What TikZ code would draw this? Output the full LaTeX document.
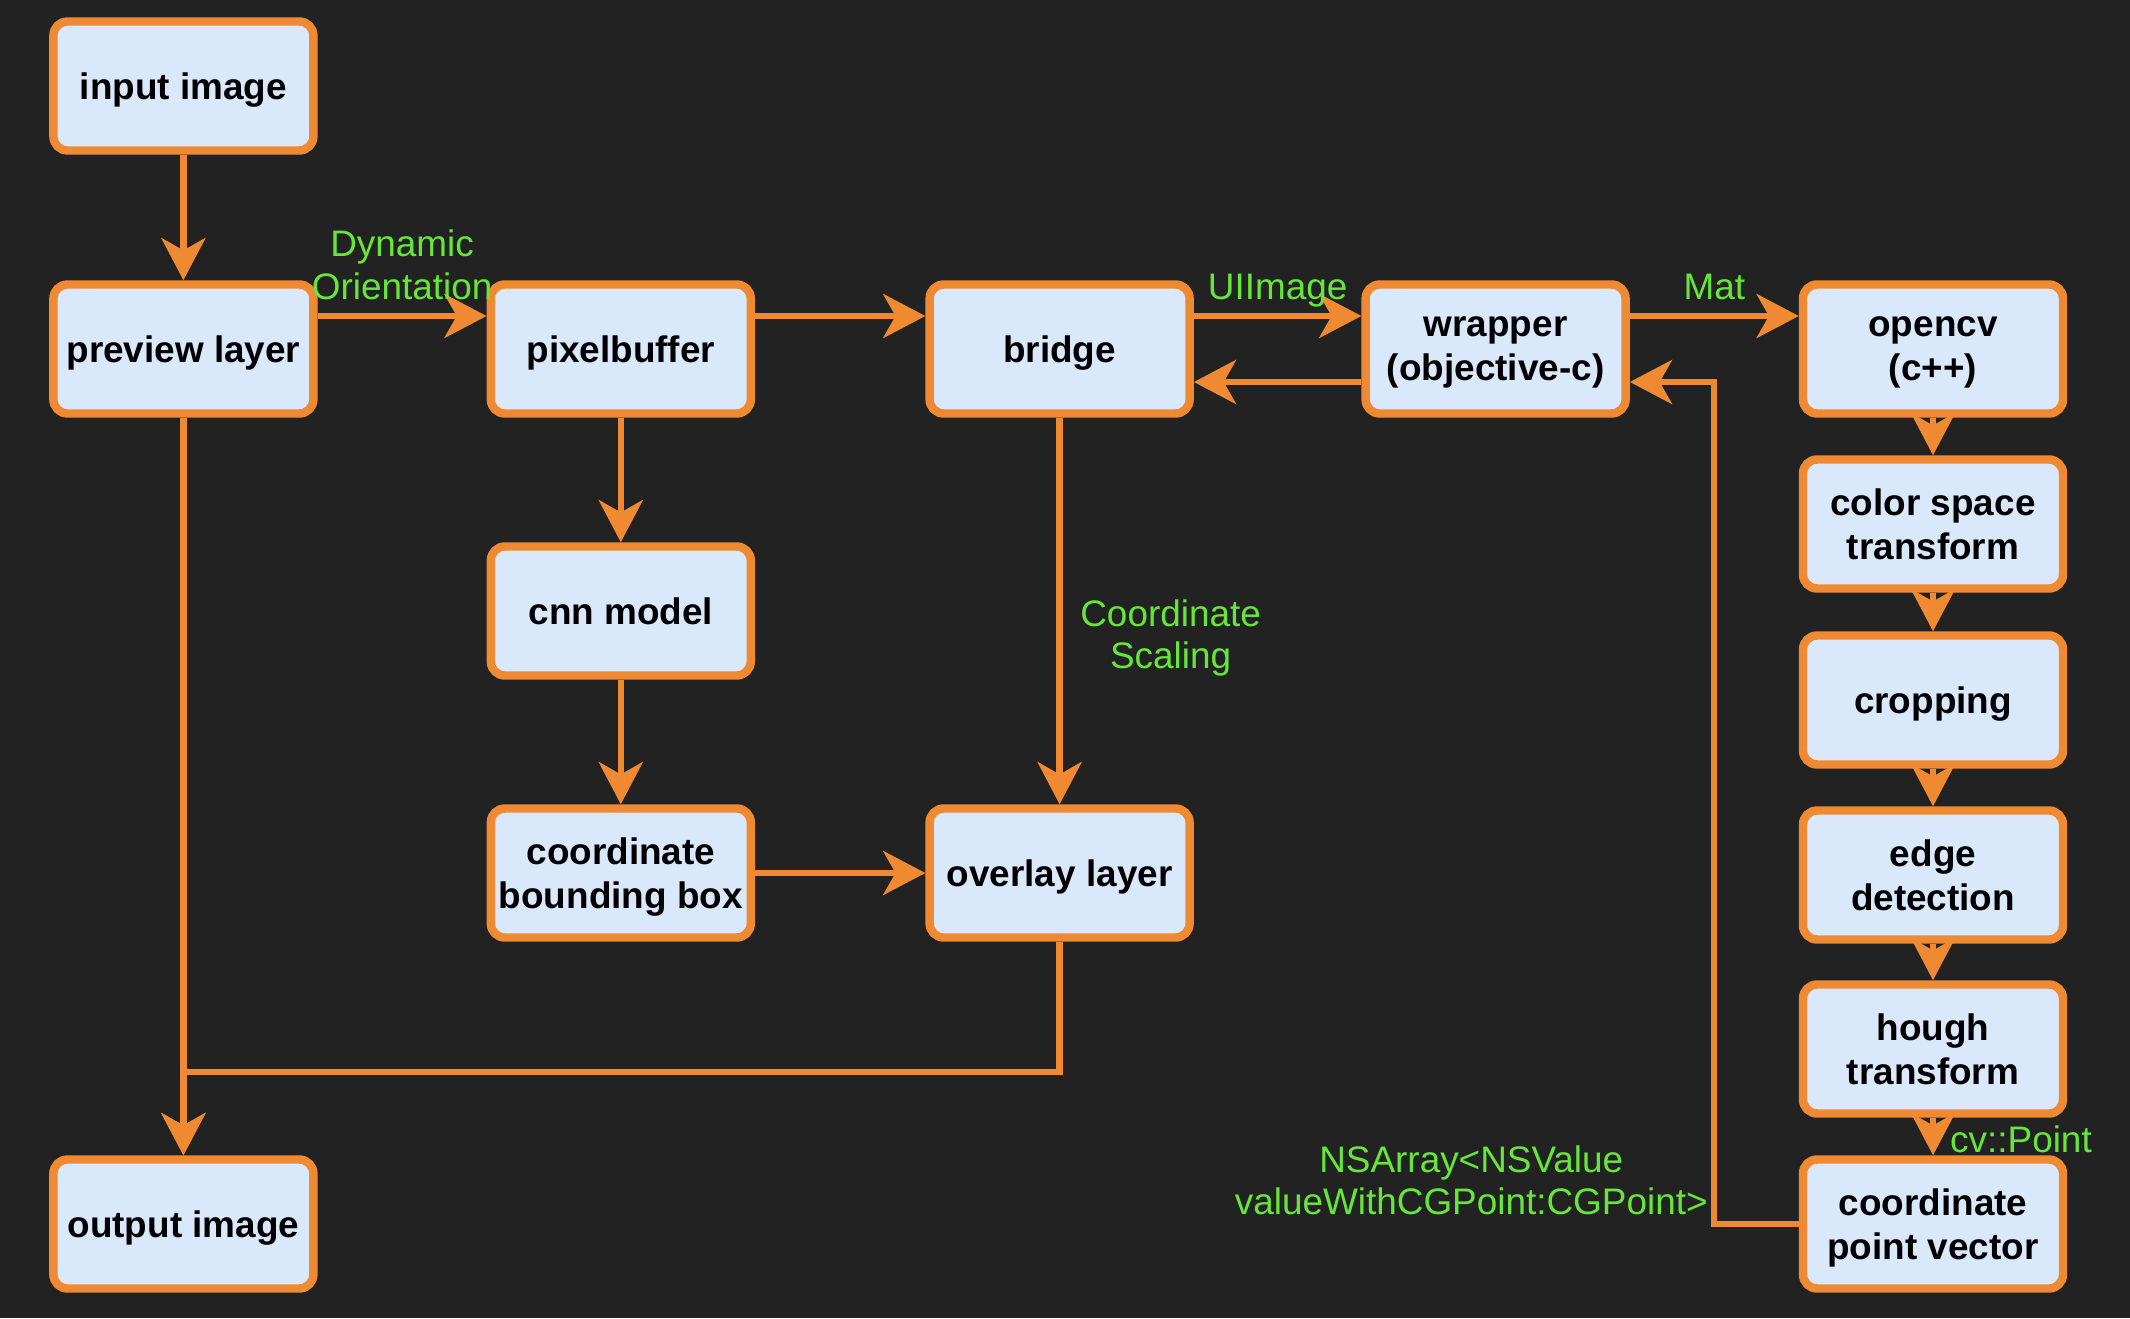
\documentclass[tikz,border=0pt]{standalone}
\usepackage{fontspec}
\setmainfont{Liberation Sans}
\usepackage{tikz}
\usetikzlibrary{arrows.meta}
\usetikzlibrary{positioning}
\usetikzlibrary{calc}
\definecolor{bgdark}{HTML}{222222}
\definecolor{boxfill}{HTML}{DAE8FC}
\definecolor{edgeorange}{HTML}{F08A32}
\definecolor{labelgreen}{HTML}{66E639}
\tikzset{
  stage/.style={draw=edgeorange, line width=2.4pt, fill=boxfill, rounded corners=4pt,
    minimum width=2.6cm, minimum height=1.29cm, align=center, inner sep=1pt,
    text depth=0pt, text=black, font=\fontsize{10.5}{12.5}\selectfont\bfseries},
  flow/.style={draw=edgeorange, line width=1.8pt,
    -{Stealth[length=12pt,width=12.5pt,inset=3.5pt]}},
  note/.style={text=labelgreen, align=center, inner sep=1pt,
    font=\fontsize{10.5}{12}\selectfont}
}

\begin{document}
\begin{tikzpicture}
  \fill[bgdark] (0,0) rectangle (21.30,13.18);
  \useasboundingbox (0,0) rectangle (21.30,13.18);

  % camera side
  \node[stage] (input) at (1.834,12.32) {input image};
  \node[stage] (preview) at (1.834,9.69) {preview layer};
  \node[stage] (output) at (1.834,0.94) {output image};
  \node[stage] (pixbuf) at (6.208,9.69) {pixelbuffer};
  \node[stage] (cnn) at (6.208,7.07) {cnn model};
  \node[stage] (bbox) at (6.208,4.45) {coordinate\\bounding box};
  \node[stage] (bridge) at (10.596,9.69) {bridge};
  \node[stage] (overlay) at (10.596,4.45) {overlay layer};
  \node[stage] (wrapper) at (14.956,9.69) {wrapper\\(objective-c)};

  % opencv side
  \node[stage] (opencv) at (19.33,9.69) {opencv\\(c++)};
  \node[stage] (colsp) at (19.33,7.94) {color space\\transform};
  \node[stage] (crop) at (19.33,6.18) {cropping};
  \node[stage] (edge) at (19.33,4.43) {edge\\detection};
  \node[stage] (hough) at (19.33,2.69) {hough\\transform};
  \node[stage] (cpv) at (19.33,0.94) {coordinate\\point vector};
  \coordinate (fb) at ($(wrapper.east)!0.5!(opencv.west)$);

  \draw[flow] (input) -- (preview);
  \draw[flow] ([yshift=0.33cm]preview.east) -- node[note, above=2.8pt] {Dynamic\\Orientation} ([yshift=0.33cm]pixbuf.west);
  \draw[flow] ([yshift=0.33cm]pixbuf.east) -- ([yshift=0.33cm]bridge.west);
  \draw[flow] ([yshift=0.33cm]bridge.east) -- node[note, above=2.8pt, text depth=0pt] {UIImage} ([yshift=0.33cm]wrapper.west);
  \draw[flow] ([yshift=-0.33cm]wrapper.west) -- ([yshift=-0.33cm]bridge.east);
  \draw[flow] ([yshift=0.33cm]wrapper.east) -- node[note, above=2.8pt] {Mat} ([yshift=0.33cm]opencv.west);

  \draw[flow] (opencv) -- (colsp);
  \draw[flow] (colsp) -- (crop);
  \draw[flow] (crop) -- (edge);
  \draw[flow] (edge) -- (hough);
  \draw[flow] (hough) -- node[note, right=3pt, yshift=-0.8pt] {cv::Point} (cpv);
  \draw[flow] (cpv.west) -- (cpv.west -| fb)
    node[note, anchor=south east, yshift=0.6pt] {NSArray<NSValue\\valueWithCGPoint:CGPoint>}
    |- ([yshift=-0.33cm]wrapper.east);

  \draw[flow] (pixbuf) -- (cnn);
  \draw[flow] (cnn) -- (bbox);
  \draw[flow] (bbox) -- (overlay);
  \draw[flow] (bridge) -- node[note, right=4pt, pos=0.57] {Coordinate\\Scaling} (overlay);
  \draw[flow] (preview) -- (output);
  \draw[flow] (overlay.south) -- ++(0,-1.30) -| (output.north);
\end{tikzpicture}
\end{document}
